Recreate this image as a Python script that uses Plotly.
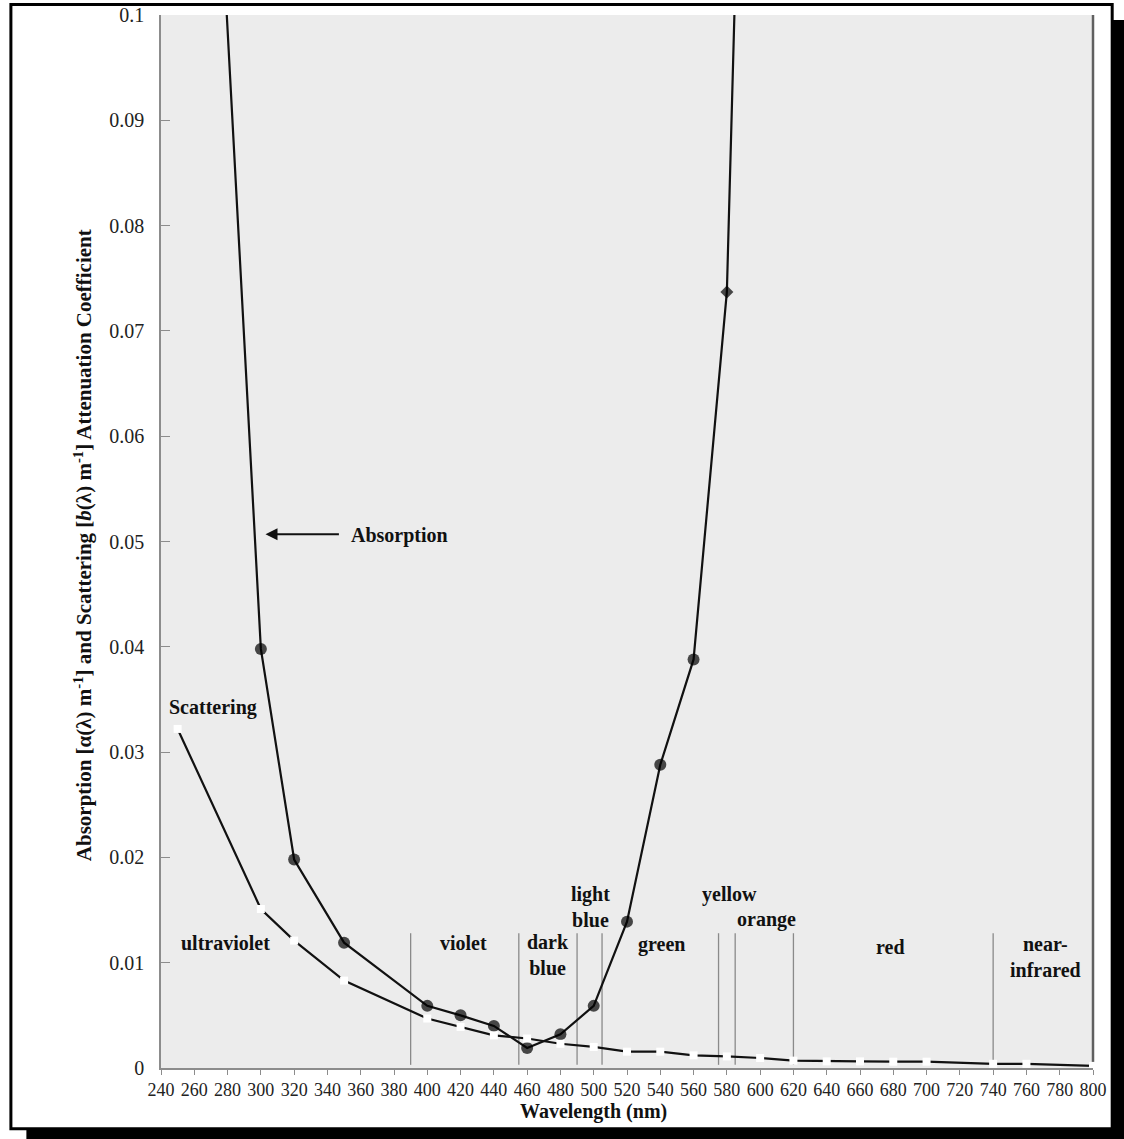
import plotly.graph_objects as go

# ---------------- data ----------------
abs_wavelength = [270, 300, 320, 350, 400, 420, 440, 460, 480, 500, 520, 540, 560, 580, 600]
abs_value = [0.128, 0.0398, 0.0198, 0.0119, 0.0059, 0.0050, 0.0040, 0.0019, 0.0032,
             0.0059, 0.0139, 0.0288, 0.0388, 0.0737, 0.19]
abs_symbol = ["circle"] * 13 + ["diamond", "circle"]

sca_wavelength = [250, 300, 320, 350, 400, 420, 440, 460, 480, 500, 520, 540, 560, 580,
                  600, 620, 640, 660, 680, 700, 740, 760, 800]
sca_value = [0.0322, 0.0151, 0.0121, 0.0083, 0.0047, 0.0039, 0.0031, 0.0028, 0.0023,
             0.0020, 0.00155, 0.00155, 0.0012, 0.0011, 0.00095, 0.0007, 0.00063,
             0.00063, 0.0006, 0.0006, 0.0004, 0.0004, 0.0002]

band_edges = [390, 455, 490, 505, 575, 585, 620, 740]
band_line_range = [0.0003, 0.0128]

band_names = ["ultraviolet", "violet", "dark<br>blue", "light<br>blue", "green",
              "yellow", "orange", "red", "near-<br>infrared"]
band_label_x = [278.6, 421.7, 472.7, 498.2, 540.8, 581.5, 604, 678.4, 771.2]
band_label_y = [0.0119, 0.0119, 0.0107, 0.0153, 0.0117, 0.0165, 0.0141, 0.01145, 0.0105]

x_range = [240, 800]
y_range = [0, 0.1]

# ---------------- layout geometry (pixels) ----------------
W, H = 1124, 1139
ML, MR, MT, MB = 160.7, 30.7, 15, 70.7
PW = W - ML - MR
PH = H - MT - MB


def px(x):
    return (x - ML) / PW


def py(y):
    return (H - MB - y) / PH


SERIF = "Liberation Serif"
AXIS_GRAY = "#8c8c8c"
INK = "#111111"

fig = go.Figure()

fig.add_trace(go.Scatter(
    x=abs_wavelength, y=abs_value, mode="lines+markers",
    line=dict(color=INK, width=2.2),
    marker=dict(color="#000000", size=[12] * 13 + [10, 12], symbol=abs_symbol,
                line=dict(width=0)),
    showlegend=False, cliponaxis=True, hoverinfo="skip",
))
fig.add_trace(go.Scatter(
    x=sca_wavelength, y=sca_value, mode="lines+markers",
    line=dict(color=INK, width=2.2),
    marker=dict(color="white", size=8, symbol="square", line=dict(width=0)),
    showlegend=False, cliponaxis=False, hoverinfo="skip",
))

shapes = [
    # drop shadow of the frame
    dict(type="rect", xref="paper", yref="paper", layer="below",
         x0=px(26), x1=px(1140), y0=py(20), y1=py(1150),
         fillcolor="black", line=dict(width=0)),
    # white frame with black border
    dict(type="rect", xref="paper", yref="paper", layer="below",
         x0=px(10.5), x1=px(1112.5), y0=py(4.5), y1=py(1129),
         fillcolor="white", line=dict(color="black", width=3)),
    # gray plotting area
    dict(type="rect", xref="paper", yref="paper", layer="below",
         x0=0, x1=1, y0=0, y1=1, fillcolor="#ececec", line=dict(width=0)),
    # right spine
    dict(type="line", xref="paper", yref="paper", layer="below",
         x0=1, x1=1, y0=0, y1=1, line=dict(color="#606060", width=2.5)),
]
for e in band_edges:
    shapes.append(dict(type="line", xref="x", yref="y", layer="below",
                       x0=e, x1=e, y0=band_line_range[0], y1=band_line_range[1],
                       line=dict(color="#8a8a8a", width=1.3)))

annotations = []
for name, lx, ly in zip(band_names, band_label_x, band_label_y):
    annotations.append(dict(x=lx, y=ly, xref="x", yref="y", text=f"<b>{name}</b>",
                            xanchor="center", yanchor="middle",
                            showarrow=False, font=dict(family=SERIF, size=20, color=INK)))

annotations += [
    dict(x=271.1, y=0.0342, xref="x", yref="y", text="<b>Scattering</b>", showarrow=False,
         xanchor="center", yanchor="middle",
         font=dict(family=SERIF, size=20, color=INK)),
    dict(x=383.3, y=0.0506, xref="x", yref="y", text="<b>Absorption</b>", showarrow=False,
         xanchor="center", yanchor="middle",
         font=dict(family=SERIF, size=20, color=INK)),
    dict(x=302.8, y=0.0507, xref="x", yref="y", ax=347.8, ay=0.0507, axref="x", ayref="y",
         text="", showarrow=True, arrowhead=2, arrowsize=1.2, arrowwidth=2,
         arrowcolor=INK),
    dict(x=px(593), y=py(1112), xref="paper", yref="paper", text="<b>Wavelength (nm)</b>",
         xanchor="center", yanchor="middle",
         showarrow=False, font=dict(family=SERIF, size=20, color=INK)),
    dict(x=px(83), y=py(545), xref="paper", yref="paper", textangle=-90,
         xanchor="center", yanchor="middle",
         text="<b>Absorption [α(λ) m<sup>-1</sup>] and Scattering [<i>b</i>(λ) m<sup>-1</sup>] "
              "Attenuation Coefficient</b>",
         showarrow=False, font=dict(family=SERIF, size=21, color=INK)),
]

fig.update_layout(
    width=W, height=H, autosize=False,
    margin=dict(l=ML, r=MR, t=MT, b=MB, pad=0, autoexpand=False),
    paper_bgcolor="white", plot_bgcolor="rgba(0,0,0,0)",
    shapes=shapes, annotations=annotations, hovermode=False,
    font=dict(family=SERIF, color="#222222"),
    xaxis=dict(range=x_range, tick0=240, dtick=20, showgrid=False, zeroline=False,
               automargin=False,
               showline=True, linecolor=AXIS_GRAY, linewidth=1.5,
               ticks="outside", ticklen=5, tickwidth=1.3, tickcolor=AXIS_GRAY,
               tickfont=dict(family=SERIF, size=18, color="#222222")),
    yaxis=dict(range=y_range, tick0=0, dtick=0.01, showgrid=False, zeroline=False,
               automargin=False,
               showline=True, linecolor=AXIS_GRAY, linewidth=1.5,
               ticks="inside", ticklen=9, tickwidth=1.3, tickcolor=AXIS_GRAY,
               ticklabelstandoff=11,
               tickfont=dict(family=SERIF, size=20, color="#222222")),
)

fig.write_html(
    "out.html",
    config={"displayModeBar": False},
    post_script="document.body.style.margin='0';document.body.style.overflow='hidden';",
)
